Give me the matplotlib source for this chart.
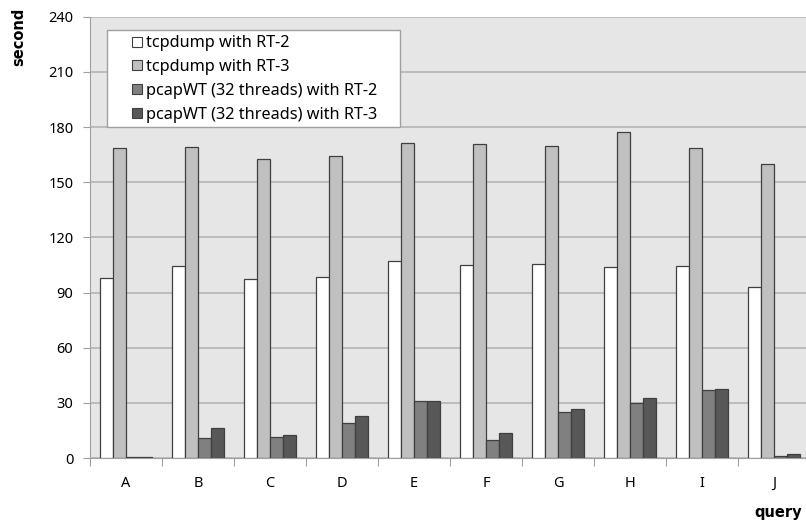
import matplotlib
matplotlib.use("Agg")
import matplotlib.pyplot as plt
from matplotlib.lines import Line2D
from matplotlib.patches import Rectangle
import numpy as np

categories = ["A", "B", "C", "D", "E", "F", "G", "H", "I", "J"]
tcpdump_rt2 = [97.7, 104.6, 97.2, 98.4, 107.0, 104.8, 105.3, 103.9, 104.4, 93.0]
tcpdump_rt3 = [168.8, 169.0, 162.4, 164.4, 171.3, 170.6, 169.7, 177.3, 168.4, 160.0]
pcap_rt2 = [0.5, 10.9, 11.2, 18.9, 31.0, 9.6, 24.8, 29.9, 37.0, 1.1]
pcap_rt3 = [0.5, 16.3, 12.7, 22.8, 31.2, 13.4, 26.6, 32.5, 37.7, 2.2]
series_labels = ["tcpdump with RT-2", "tcpdump with RT-3",
                 "pcapWT (32 threads) with RT-2", "pcapWT (32 threads) with RT-3"]
yticks = [0, 30, 60, 90, 120, 150, 180, 210, 240]

colors = ["#ffffff", "#c0c0c0", "#808080", "#585858"]
series = [tcpdump_rt2, tcpdump_rt3, pcap_rt2, pcap_rt3]

plt.rcParams['font.family'] = ['Noto Sans', 'DejaVu Sans']

fig = plt.figure(figsize=(8.06, 5.23), dpi=100)
W, H = 806, 523
left, right, top, bottom = 90, 810, 16.7, 458
ax = fig.add_axes([left / W, 1 - bottom / H, (right - left) / W, (bottom - top) / H])
ax.set_facecolor("#e6e6e6")

x = np.arange(len(categories))
bw = 0.18
for i, (vals, c, lab) in enumerate(zip(series, colors, series_labels)):
    ax.bar(x + (i - 1.5) * bw, vals, width=bw, color=c, edgecolor="#404040",
           linewidth=0.9, label=lab, zorder=3)

ax.set_xlim(-0.5, len(categories) - 0.5)
ax.set_ylim(0, 240)
ax.set_yticks(yticks)
ax.set_yticklabels([str(t) for t in yticks], fontsize=10.5)
ax.yaxis.grid(True, color="#b4b4b4", linewidth=1.2, zorder=0)
ax.set_axisbelow(True)

ax.set_xticks(np.arange(-0.5, len(categories) + 0.5, 1))
ax.set_xticklabels([])
ax.set_xticks(x, minor=True)
ax.set_xticklabels(categories, minor=True, fontsize=10.5)
ax.tick_params(axis='x', which='minor', length=0, pad=13)
ax.tick_params(axis='x', which='major', length=6, color="#a0a0a0")
ax.tick_params(axis='y', length=5, color="#a0a0a0", pad=7)

for s in ["top", "right"]:
    ax.spines[s].set_visible(False)
ax.spines["left"].set_color("#a0a0a0")
ax.spines["bottom"].set_color("#a0a0a0")

fig.text(19 / W, 1 - 36.5 / H, "second", rotation=90, fontsize=10.5,
         fontweight="bold", family="DejaVu Sans", ha="center", va="center")
fig.text(778 / W, 1 - 512 / H, "query", fontsize=10.5, fontweight="bold",
         family="DejaVu Sans", ha="center", va="center")

# legend frame
frame = Rectangle((107 / W, 1 - 127 / H), (400 - 107) / W, (127 - 30) / H,
                  transform=fig.transFigure, facecolor="white", edgecolor="#a0a0a0",
                  linewidth=1.0, zorder=5)
fig.add_artist(frame)

handles = [Line2D([], [], linestyle="none", marker="s", markersize=6.8,
                  markerfacecolor=c, markeredgecolor="#404040", markeredgewidth=0.8)
           for c in colors]
fs = 11.7
em = fs * 100 / 72.0
hl = 1.0
x0 = 136.5 - hl * em / 2
leg = fig.legend(handles, series_labels, loc="center left",
                 bbox_to_anchor=(x0 / W, 1 - 78.9 / H),
                 fontsize=fs, frameon=False, handlelength=hl, handletextpad=0.1,
                 borderpad=0, labelspacing=0.48, borderaxespad=0)
leg.set_zorder(6)

fig.savefig("out.png", dpi=100)
